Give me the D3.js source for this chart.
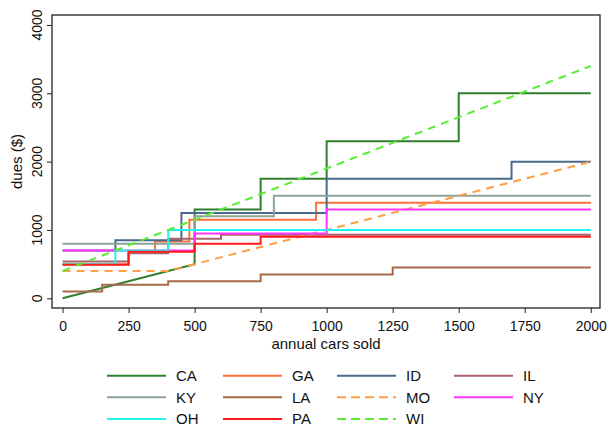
<!doctype html>
<html>
  <head>
    <style>
      html, body { margin: 0; padding: 0; background: #fff; }
      svg { font-family: "Liberation Sans", Arial, sans-serif; }
      .series { fill: none; stroke-width: 2px; }
    </style>
  </head>
  <body>
    <svg id="chart" width="610" height="427"></svg>
    <script src="https://d3js.org/d3.v7.min.js"></script>
    <script>
      // dues by annual cars sold, vertices
      var CA = [[0,0],[500,500],[500,1300],[750,1300],[750,1750],[1000,1750],[1000,2300],[1500,2300],[1500,3000],[2000,3000]];
      var GA = [[0,500],[250,500],[250,690],[350,690],[350,830],[480,830],[480,1150],[960,1150],[960,1400],[2000,1400]];
      var ID = [[0,700],[200,700],[200,850],[450,850],[450,1250],[1000,1250],[1000,1750],[1700,1750],[1700,2000],[2000,2000]];
      var IL = [[0,540],[250,540],[250,660],[400,660],[400,870],[600,870],[600,930],[2000,930]];
      var KY = [[0,800],[500,800],[500,1200],[800,1200],[800,1500],[2000,1500]];
      var LA = [[0,100],[150,100],[150,200],[400,200],[400,250],[750,250],[750,350],[1250,350],[1250,450],[2000,450]];
      var MO = [[0,400],[400,400],[2000,2000]];
      var NY = [[0,700],[500,700],[500,950],[1000,950],[1000,1300],[2000,1300]];
      var OH = [[0,500],[200,500],[200,700],[400,700],[400,1000],[2000,1000]];
      var PA = [[0,490],[250,490],[250,680],[500,680],[500,800],[750,800],[750,900],[2000,900]];
      var WI = [[0,400],[2000,3400]];

      var states = ["CA","GA","ID","IL","KY","LA","MO","NY","OH","PA","WI"];
      var seriesData = [CA, GA, ID, IL, KY, LA, MO, NY, OH, PA, WI];
      var colors = ["#2f7f2f","#ff6f3a","#4a6a8e","#a8646c","#8aa398","#a86a4a","#ff9f45","#ff33ff","#22f2f2","#ff1a1a","#55ee33"];
      var dashed = ["MO","WI"];

      var xTicks = [0,250,500,750,1000,1250,1500,1750,2000];
      var yTicks = [0,1000,2000,3000,4000];

      var svg = d3.select("#chart");
      var pLeft = 52, pRight = 600, pTop = 15, pBottom = 308;

      var x = d3.scaleLinear().domain([-40, 2035]).range([pLeft, pRight]);
      var y = d3.scaleLinear().domain([-142, 4146]).range([pBottom, pTop]);

      var line = d3.line()
        .x(function(d) { return x(d[0]); })
        .y(function(d) { return y(d[1]); });

      svg.append("clipPath").attr("id", "plotclip")
        .append("rect").attr("x", pLeft).attr("y", pTop)
        .attr("width", pRight - pLeft).attr("height", pBottom - pTop);

      var plot = svg.append("g").attr("clip-path", "url(#plotclip)");
      seriesData.forEach(function(s, i) {
        plot.append("path")
          .datum(s)
          .attr("class", "series")
          .attr("stroke", colors[i])
          .attr("stroke-dasharray", dashed.indexOf(states[i]) >= 0 ? "8,6" : null)
          .attr("d", line);
      });

      // box
      svg.append("rect")
        .attr("x", pLeft).attr("y", pTop)
        .attr("width", pRight - pLeft).attr("height", pBottom - pTop)
        .attr("fill", "none").attr("stroke", "#222").attr("stroke-width", 1.3);

      // x axis
      var xAxis = svg.append("g")
        .attr("transform", "translate(0," + pBottom + ")")
        .call(d3.axisBottom(x).tickValues(xTicks).tickSize(5).tickPadding(8).tickFormat(d3.format("d")));
      xAxis.select(".domain").remove();
      xAxis.selectAll("line").attr("stroke", "#222");
      xAxis.selectAll("text").attr("font-size", 14).attr("fill", "#111")
        .style("font-family", "Liberation Sans, Arial, sans-serif");

      // y axis
      var yAxis = svg.append("g")
        .attr("transform", "translate(" + pLeft + ",0)")
        .call(d3.axisLeft(y).tickValues(yTicks).tickSize(5).tickFormat(""));
      yAxis.select(".domain").remove();
      yAxis.selectAll("line").attr("stroke", "#222");

      svg.append("g").selectAll("text")
        .data(yTicks)
        .join("text")
        .attr("transform", function(d) { return "translate(37," + y(d) + ") rotate(-90)"; })
        .attr("text-anchor", "middle")
        .attr("dy", "0.35em")
        .attr("font-size", 14)
        .attr("fill", "#111")
        .text(function(d) { return d; });

      // titles
      svg.append("text")
        .attr("x", (pLeft + pRight) / 2).attr("y", 349)
        .attr("text-anchor", "middle").attr("font-size", 15).attr("fill", "#111")
        .text("annual cars sold");
      svg.append("text")
        .attr("transform", "translate(17," + (pTop + pBottom) / 2 + ") rotate(-90)")
        .attr("text-anchor", "middle").attr("dy", "0.35em")
        .attr("font-size", 15).attr("fill", "#111")
        .text("dues ($)");

      // legend, filled row by row
      var legRows = [375.7, 397.3, 419];
      var legCols = [107, 223, 337, 454];
      var legend = svg.append("g");
      states.forEach(function(st, i) {
        var lx = legCols[i % 4], ly = legRows[Math.floor(i / 4)];
        legend.append("line")
          .attr("x1", lx).attr("x2", lx + 59)
          .attr("y1", ly).attr("y2", ly)
          .attr("stroke", colors[i]).attr("stroke-width", 2)
          .attr("stroke-dasharray", dashed.indexOf(st) >= 0 ? "9,5" : null);
        legend.append("text")
          .attr("x", lx + 69).attr("y", ly)
          .attr("dy", "0.36em")
          .attr("font-size", 15).attr("fill", "#111")
          .text(st);
      });
    </script>
  </body>
</html>
